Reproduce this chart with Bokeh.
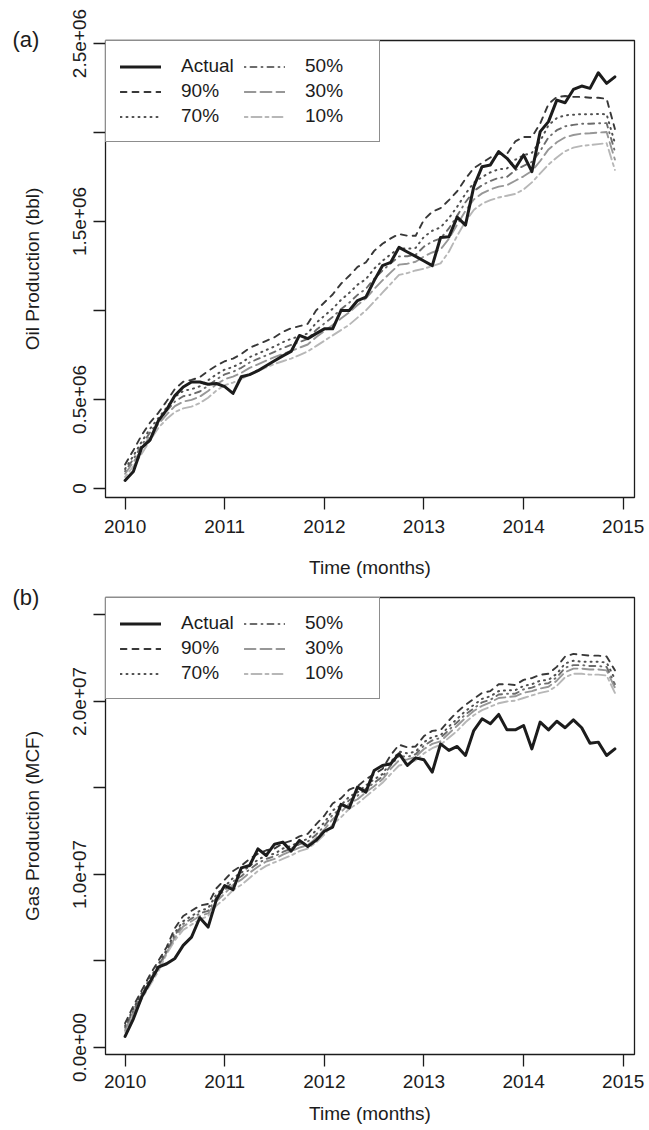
from bokeh.plotting import figure
from bokeh.layouts import column
from bokeh.models import FixedTicker, Legend, LegendItem, Title, Range1d
from bokeh.embed import file_html
from bokeh.resources import INLINE

FONT = "Liberation Sans"
INK = "#1c1c1c"

# Monthly time axis: Jan 2010 .. Dec 2014
months = list(range(60))
years = [2010 + m / 12 for m in months]

# ---- Oil production, thousand bbl per month ----
oil_actual = [45, 95, 230, 272, 380, 442, 522, 570, 598, 598,
              586, 590, 572, 534, 628, 640, 662, 690, 718, 745,
              770, 860, 842, 870, 897, 897, 1000, 1000, 1056, 1075,
              1168, 1252, 1271, 1355, 1329, 1304, 1278, 1252, 1410, 1414,
              1525, 1480, 1696, 1808, 1818, 1893, 1855, 1799, 1874, 1780,
              2005, 2061, 2182, 2167, 2242, 2261, 2248, 2336, 2276, 2313]
oil_p90 = [135, 215, 300, 370, 425, 490, 560, 600, 610, 625,
           660, 690, 715, 730, 755, 790, 810, 830, 850, 880,
           900, 912, 925, 1000, 1045, 1090, 1150, 1195, 1245, 1270,
           1335, 1375, 1405, 1430, 1420, 1420, 1510, 1555, 1575, 1620,
           1670, 1740, 1800, 1830, 1860, 1880, 1880, 1950, 1975, 1975,
           2050, 2160, 2200, 2205, 2200, 2200, 2195, 2195, 2190, 2020]
oil_p70 = [110, 184, 263, 335, 395, 455, 515, 548, 558, 574,
           608, 641, 668, 683, 706, 738, 758, 778, 798, 822,
           841, 855, 871, 930, 970, 1010, 1059, 1099, 1145, 1176,
           1235, 1279, 1316, 1350, 1347, 1352, 1414, 1448, 1467, 1519,
           1583, 1656, 1718, 1750, 1776, 1794, 1798, 1847, 1872, 1886,
           1952, 2041, 2081, 2097, 2100, 2104, 2102, 2104, 2103, 1940]
oil_p50 = [97, 166, 242, 315, 378, 435, 489, 518, 528, 545,
           578, 613, 641, 656, 678, 708, 728, 748, 768, 789,
           807, 823, 840, 890, 927, 964, 1007, 1044, 1088, 1122,
           1178, 1224, 1265, 1304, 1305, 1313, 1359, 1387, 1405, 1461,
           1533, 1608, 1671, 1704, 1728, 1745, 1751, 1788, 1813, 1835,
           1896, 1973, 2013, 2035, 2043, 2049, 2049, 2052, 2053, 1893]
oil_p30 = [83, 148, 221, 295, 361, 415, 463, 488, 498, 516,
           548, 585, 614, 629, 650, 678, 698, 718, 738, 756,
           773, 791, 809, 850, 884, 918, 955, 989, 1031, 1068,
           1121, 1169, 1214, 1258, 1263, 1274, 1304, 1326, 1343, 1403,
           1483, 1560, 1624, 1658, 1680, 1696, 1704, 1729, 1754, 1784,
           1840, 1905, 1945, 1973, 1986, 1994, 1996, 2000, 2003, 1848]
oil_p10 = [65, 125, 195, 270, 340, 390, 430, 450, 460, 480,
           510, 550, 580, 595, 615, 640, 660, 680, 700, 715,
           730, 750, 770, 800, 830, 860, 890, 920, 960, 1000,
           1050, 1100, 1150, 1200, 1210, 1225, 1235, 1250, 1265, 1330,
           1420, 1500, 1565, 1600, 1620, 1635, 1645, 1655, 1680, 1720,
           1770, 1820, 1860, 1895, 1915, 1925, 1930, 1935, 1940, 1790]

# ---- Gas production, million MCF per month ----
gas_actual = [0.64, 1.66, 2.91, 3.78, 4.64, 4.84, 5.15, 5.90, 6.38, 7.50,
              6.96, 8.55, 9.36, 9.12, 10.38, 10.52, 11.48, 11.10, 11.75, 11.87,
              11.35, 11.97, 11.62, 11.97, 12.50, 12.74, 14.05, 13.85, 15.05, 14.76,
              16.01, 16.30, 16.40, 16.98, 16.30, 16.74, 16.63, 15.92, 17.55, 17.17,
              17.40, 16.88, 18.32, 19.00, 18.71, 19.25, 18.36, 18.36, 18.61, 17.26,
              18.81, 18.36, 18.86, 18.48, 18.94, 18.48, 17.59, 17.65, 16.88, 17.26]
gas_p90 = [1.4, 2.4, 3.3, 4.2, 5.0, 5.8, 6.9, 7.6, 7.9, 8.2,
           8.3, 9.2, 9.7, 10.2, 10.5, 10.9, 11.2, 11.4, 11.5, 11.8,
           11.95, 12.2, 12.35, 12.9, 13.4, 14.1, 14.4, 14.9, 15.1, 15.5,
           15.8, 16.1, 16.9, 17.5, 17.35, 17.4, 18.0, 18.3, 18.35, 18.9,
           19.4, 19.8, 20.15, 20.5, 20.6, 21.0, 21.0, 20.95, 21.25, 21.35,
           21.55, 21.6, 22.0, 22.6, 22.75, 22.7, 22.65, 22.65, 22.6, 21.8]
gas_p70 = [1.25, 2.25, 3.15, 4.0, 4.8, 5.65, 6.65, 7.3, 7.6, 7.9,
           8.05, 8.85, 9.3, 9.8, 10.1, 10.5, 10.85, 11.1, 11.2, 11.5,
           11.65, 11.9, 12.05, 12.55, 13.0, 13.7, 14.0, 14.5, 14.75, 15.15,
           15.5, 15.8, 16.5, 17.1, 17.0, 17.1, 17.65, 17.95, 18.05, 18.55,
           19.0, 19.45, 19.8, 20.15, 20.3, 20.6, 20.65, 20.65, 20.9, 21.0,
           21.2, 21.25, 21.6, 22.2, 22.35, 22.3, 22.3, 22.3, 22.25, 21.3]
gas_p50 = [1.15, 2.15, 3.05, 3.9, 4.7, 5.55, 6.5, 7.15, 7.45, 7.75,
           7.9, 8.65, 9.1, 9.6, 9.9, 10.3, 10.65, 10.9, 11.05, 11.3,
           11.5, 11.75, 11.9, 12.3, 12.8, 13.45, 13.8, 14.3, 14.55, 14.95,
           15.3, 15.65, 16.3, 16.85, 16.8, 16.95, 17.45, 17.75, 17.9, 18.35,
           18.8, 19.25, 19.6, 19.95, 20.1, 20.4, 20.45, 20.45, 20.7, 20.8,
           21.0, 21.05, 21.4, 21.95, 22.1, 22.1, 22.05, 22.05, 22.0, 21.0]
gas_p30 = [1.0, 2.0, 2.95, 3.75, 4.55, 5.5, 6.35, 7.0, 7.3, 7.6,
           7.75, 8.45, 8.9, 9.4, 9.7, 10.1, 10.45, 10.75, 10.9, 11.15,
           11.35, 11.55, 11.7, 12.1, 12.6, 13.2, 13.6, 14.1, 14.35, 14.75,
           15.1, 15.5, 16.1, 16.6, 16.65, 16.8, 17.25, 17.55, 17.7, 18.15,
           18.6, 19.05, 19.45, 19.75, 19.95, 20.2, 20.25, 20.3, 20.5, 20.6,
           20.75, 20.85, 21.2, 21.7, 21.9, 21.9, 21.85, 21.85, 21.8, 20.8]
gas_p10 = [0.9, 1.9, 2.8, 3.6, 4.4, 5.4, 6.2, 6.8, 7.1, 7.4,
           7.6, 8.2, 8.6, 9.1, 9.4, 9.8, 10.2, 10.5, 10.7, 10.9,
           11.1, 11.35, 11.5, 11.85, 12.3, 12.9, 13.3, 13.8, 14.1, 14.5,
           14.9, 15.3, 15.8, 16.3, 16.4, 16.6, 17.0, 17.3, 17.5, 17.9,
           18.3, 18.8, 19.2, 19.5, 19.7, 19.9, 20.0, 20.05, 20.2, 20.35,
           20.5, 20.6, 20.9, 21.4, 21.6, 21.6, 21.55, 21.55, 21.5, 20.5]

year_ticks = [2010, 2011, 2012, 2013, 2014, 2015]
oil_ticks = [0, 500000, 1000000, 1500000, 2000000, 2500000]
oil_tick_labels = ["0", "0.5e+06", "", "1.5e+06", "", "2.5e+06"]
gas_ticks = [0, 5000000, 10000000, 15000000, 20000000, 25000000]
gas_tick_labels = ["0.0e+00", "", "1.0e+07", "", "2.0e+07", ""]

series_names = ["Actual", "90%", "70%", "50%", "30%", "10%"]
# (dash, width, colour) per series
series_style = {
    "Actual": ("solid", 3.0, "#1c1c1c"),
    "90%": ("6 6", 1.9, "#383838"),
    "70%": ("1 5", 2.0, "#505050"),
    "50%": ("1 5 6 5", 1.9, "#6c6c6c"),
    "30%": ("11 5", 1.9, "#979797"),
    "10%": ("3 4 10 4", 1.9, "#b7b7b7"),
}

# R-style axis extents: data range padded by 4% on x
X_LO, X_HI = 2009.8033, 2015.1133


def make_panel(height, top, bottom, y_lo, y_hi, ticks, tick_labels, ylabel,
               values, tag, tag_standoff, label_standoff, title_standoff):
    p = figure(width=649, height=height, output_backend="svg", toolbar_location=None,
               x_range=Range1d(X_LO, X_HI), y_range=Range1d(y_lo, y_hi),
               min_border_left=105, min_border_right=15,
               min_border_top=top, min_border_bottom=bottom)
    p.grid.visible = False
    p.background_fill_color = "white"
    p.border_fill_color = "white"
    p.outline_line_color = INK
    p.outline_line_width = 1.3

    for ax in (p.xaxis[0], p.yaxis[0]):
        ax.axis_line_color = None
        ax.major_tick_line_color = INK
        ax.major_tick_line_width = 1.3
        ax.major_tick_out = 12
        ax.major_tick_in = 0
        ax.minor_tick_line_color = None
        ax.major_label_text_font = FONT
        ax.major_label_text_font_size = "19px"
        ax.major_label_text_color = INK
        ax.axis_label_text_font = FONT
        ax.axis_label_text_font_size = "19px"
        ax.axis_label_text_font_style = "normal"
        ax.axis_label_text_color = INK

    xa = p.xaxis[0]
    xa.ticker = FixedTicker(ticks=year_ticks)
    xa.major_label_standoff = label_standoff
    xa.axis_label = "Time (months)"
    xa.axis_label_standoff = title_standoff

    ya = p.yaxis[0]
    ya.ticker = FixedTicker(ticks=ticks)
    ya.major_label_overrides = {t: s for t, s in zip(ticks, tick_labels)}
    ya.major_label_orientation = "vertical"
    ya.major_label_standoff = 7
    ya.axis_label = ylabel
    ya.axis_label_standoff = 28

    renderers = {}
    for name in reversed(series_names):
        dash, width, colour = series_style[name]
        renderers[name] = p.line(years, values[name], line_color=colour,
                                 line_width=width, line_dash=dash,
                                 line_join="round", line_cap="round")

    legend = Legend(items=[LegendItem(label=n, renderers=[renderers[n]]) for n in series_names],
                    location="top_left", nrows=3, margin=0, padding=14, spacing=3,
                    glyph_width=41, glyph_height=21, label_height=21, label_width=60,
                    label_standoff=20, label_text_font=FONT, label_text_font_size="19px",
                    label_text_color=INK, border_line_color=INK, border_line_width=1.3,
                    background_fill_color="white", background_fill_alpha=1.0)
    p.add_layout(legend)

    # panel tag in the top-left corner, outside the plotting area
    p.add_layout(Title(text=tag, align="left", offset=-93, standoff=tag_standoff,
                       text_font=FONT, text_font_size="22px", text_font_style="normal",
                       text_color=INK), "above")
    return p


oil = {"Actual": [v * 1e3 for v in oil_actual], "90%": [v * 1e3 for v in oil_p90],
       "70%": [v * 1e3 for v in oil_p70], "50%": [v * 1e3 for v in oil_p50],
       "30%": [v * 1e3 for v in oil_p30], "10%": [v * 1e3 for v in oil_p10]}
gas = {"Actual": [v * 1e6 for v in gas_actual], "90%": [v * 1e6 for v in gas_p90],
       "70%": [v * 1e6 for v in gas_p70], "50%": [v * 1e6 for v in gas_p50],
       "30%": [v * 1e6 for v in gas_p30], "10%": [v * 1e6 for v in gas_p10]}

p1 = make_panel(585, 40, 88, -50600, 2517000, oil_ticks, oil_tick_labels,
                "Oil Production (bbl)", oil, "(a)", -23, 10, 21)
p2 = make_panel(545, 12, 76, -405000, 26010000, gas_ticks, gas_tick_labels,
                "Gas Production (MCF)", gas, "(b)", -25, 8, 12)

layout = column(p1, p2, spacing=0)
open("out.html", "w").write(file_html(layout, INLINE))
